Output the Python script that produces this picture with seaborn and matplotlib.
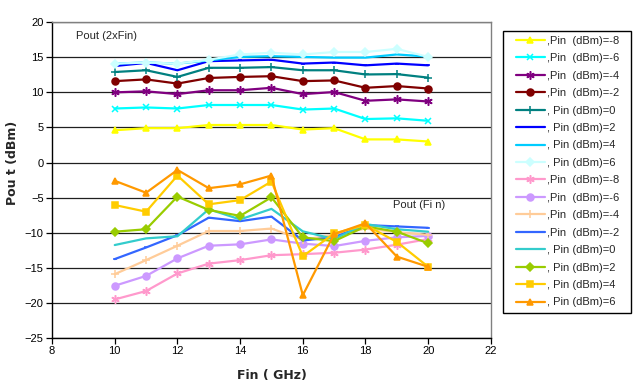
import matplotlib
matplotlib.use("Agg")
import matplotlib.pyplot as plt
import seaborn as sns
import pandas as pd
from matplotlib.lines import Line2D
from matplotlib.patches import Rectangle

# Input frequency (GHz)
freq = [10, 11, 12, 13, 14, 15, 16, 17, 18, 19, 20]

# Output power at the second harmonic (2xFin), dBm, per input power level
p2_m8 = [4.6, 4.9, 4.9, 5.35, 5.35, 5.35, 4.7, 4.9, 3.3, 3.3, 3.0]
p2_m6 = [7.7, 7.85, 7.7, 8.2, 8.2, 8.2, 7.55, 7.7, 6.2, 6.3, 5.95]
p2_m4 = [10.0, 10.15, 9.75, 10.3, 10.3, 10.65, 9.75, 10.05, 8.8, 9.0, 8.7]
p2_m2 = [11.6, 11.85, 11.25, 12.05, 12.2, 12.3, 11.6, 11.7, 10.65, 10.9, 10.55]
p2_0 = [12.9, 13.15, 12.2, 13.5, 13.5, 13.6, 13.15, 13.15, 12.55, 12.6, 12.1]
p2_2 = [13.75, 14.2, 13.15, 14.45, 14.55, 14.65, 14.1, 14.25, 13.85, 14.1, 13.85]
p2_4 = [14.1, 14.25, 14.1, 14.55, 15.05, 15.15, 15.05, 14.95, 14.95, 15.4, 15.1]
p2_6 = [14.1, 14.25, 14.1, 14.65, 15.4, 15.65, 15.4, 15.75, 15.75, 16.2, 15.05]

# Output power at the fundamental (Fin), dBm
p1_m8 = [-19.5, -18.3, -15.8, -14.4, -13.9, -13.2, -13.05, -12.85, -12.4, -11.7, -10.9]
p1_m6 = [-17.55, -16.15, -13.65, -11.85, -11.65, -10.95, -11.55, -11.9, -11.15, -10.65, -10.45]
p1_m4 = [-15.9, -13.9, -11.85, -9.75, -9.75, -9.4, -11.0, -10.3, -9.4, -9.9, -10.3]
p1_m2 = [-13.75, -12.1, -10.35, -7.85, -8.35, -7.7, -11.1, -10.65, -8.9, -9.1, -9.3]
p1_0 = [-11.75, -10.8, -10.5, -6.65, -8.1, -6.6, -9.8, -10.9, -8.75, -9.5, -9.85]
p1_2 = [-9.85, -9.5, -4.85, -6.75, -7.6, -4.95, -10.65, -11.2, -9.1, -9.85, -11.5]
p1_4 = [-6.05, -7.0, -1.85, -5.95, -5.35, -2.7, -13.35, -10.1, -8.9, -11.3, -14.85]
p1_6 = [-2.6, -4.3, -1.05, -3.65, -3.1, -1.85, -18.9, -10.2, -8.65, -13.4, -14.85]

labels = [",Pin  (dBm)=-8", ",Pin  (dBm)=-6", ",Pin  (dBm)=-4", ",Pin  (dBm)=-2",
          ", Pin (dBm)=0", ", Pin (dBm)=2", ", Pin (dBm)=4", ", Pin (dBm)=6"]

series = [p2_m8, p2_m6, p2_m4, p2_m2, p2_0, p2_2, p2_4, p2_6,
          p1_m8, p1_m6, p1_m4, p1_m2, p1_0, p1_2, p1_4, p1_6]

asterisk = (6, 2, 0)
styles = [
    ("#FFFF00", "^", 5), ("#00FFFF", "x", 5), ("#800080", asterisk, 6), ("#800000", "o", 5),
    ("#008080", "+", 6), ("#0000FF", "_", 3), ("#00CCFF", None, 0), ("#CCFFFF", "D", 4),
    ("#FF99CC", asterisk, 6), ("#CC99FF", "o", 5), ("#FFCC99", "+", 6), ("#3366FF", "_", 3),
    ("#33CCCC", None, 0), ("#99CC00", "D", 4), ("#FFCC00", "s", 5), ("#FF9900", "^", 5),
]

sns.set_style("white")
plt.rcParams["font.family"] = ["Liberation Sans", "DejaVu Sans"]

fig = plt.figure(figsize=(6.35, 3.89), dpi=100)
ax = fig.add_axes([0.082, 0.131, 0.691, 0.812])

handles = []
for i, (vals, (col, mk, ms)) in enumerate(zip(series, styles)):
    df = pd.DataFrame({"Fin": freq, "Pout": vals})
    sns.lineplot(data=df, x="Fin", y="Pout", ax=ax, color=col, lw=1.6,
                 marker=mk, markersize=ms, markeredgecolor=col, markerfacecolor=col,
                 markeredgewidth=1.1, legend=False, zorder=3 + i)
    handles.append(Line2D([0], [0], color=col, lw=1.6, marker=mk, markersize=ms,
                          markeredgecolor=col, markerfacecolor=col, markeredgewidth=1.1,
                          label=labels[i % 8]))

ax.set_xlim(8, 22)
ax.set_ylim(-25, 20)
ax.set_xticks(range(8, 23, 2))
ax.set_yticks(range(-25, 21, 5))
ax.yaxis.grid(True, color="#202020", lw=0.9)
ax.set_axisbelow(True)
ax.tick_params(axis="both", labelsize=8, direction="out", length=4, width=0.9,
               colors="black", left=True, bottom=True, pad=2)

for side in ["left", "bottom"]:
    ax.spines[side].set_color("black")
    ax.spines[side].set_linewidth(1)
for side in ["top", "right"]:
    ax.spines[side].set_color("#808080")
    ax.spines[side].set_linewidth(1)

ax.set_xlabel("Fin ( GHz)", fontsize=9, fontweight="bold", family="DejaVu Sans", labelpad=9)
ax.set_ylabel("Pou t (dBm)", fontsize=9, fontweight="bold", family="DejaVu Sans")
ax.yaxis.set_label_coords(-0.075, 0.554)

ax.text(8.77, 18.1, "Pout (2xFin)", fontsize=8, ha="left", va="center")
ax.text(18.88, -6.1, "Pout (Fi n)", fontsize=8, ha="left", va="center")

# Legend frame drawn as a plain box, entries placed inside it
fig.patches.append(Rectangle((0.792, 0.195), 0.202, 0.726, transform=fig.transFigure,
                             facecolor="white", edgecolor="black", lw=1, zorder=0))
leg = fig.legend(handles=handles, loc="upper left", bbox_to_anchor=(0.812, 0.908),
                 fontsize=8, frameon=False, borderaxespad=0, borderpad=0,
                 handlelength=2.6, handletextpad=0.2, labelspacing=0.67)

fig.savefig("out.png", dpi=100, facecolor="white")
